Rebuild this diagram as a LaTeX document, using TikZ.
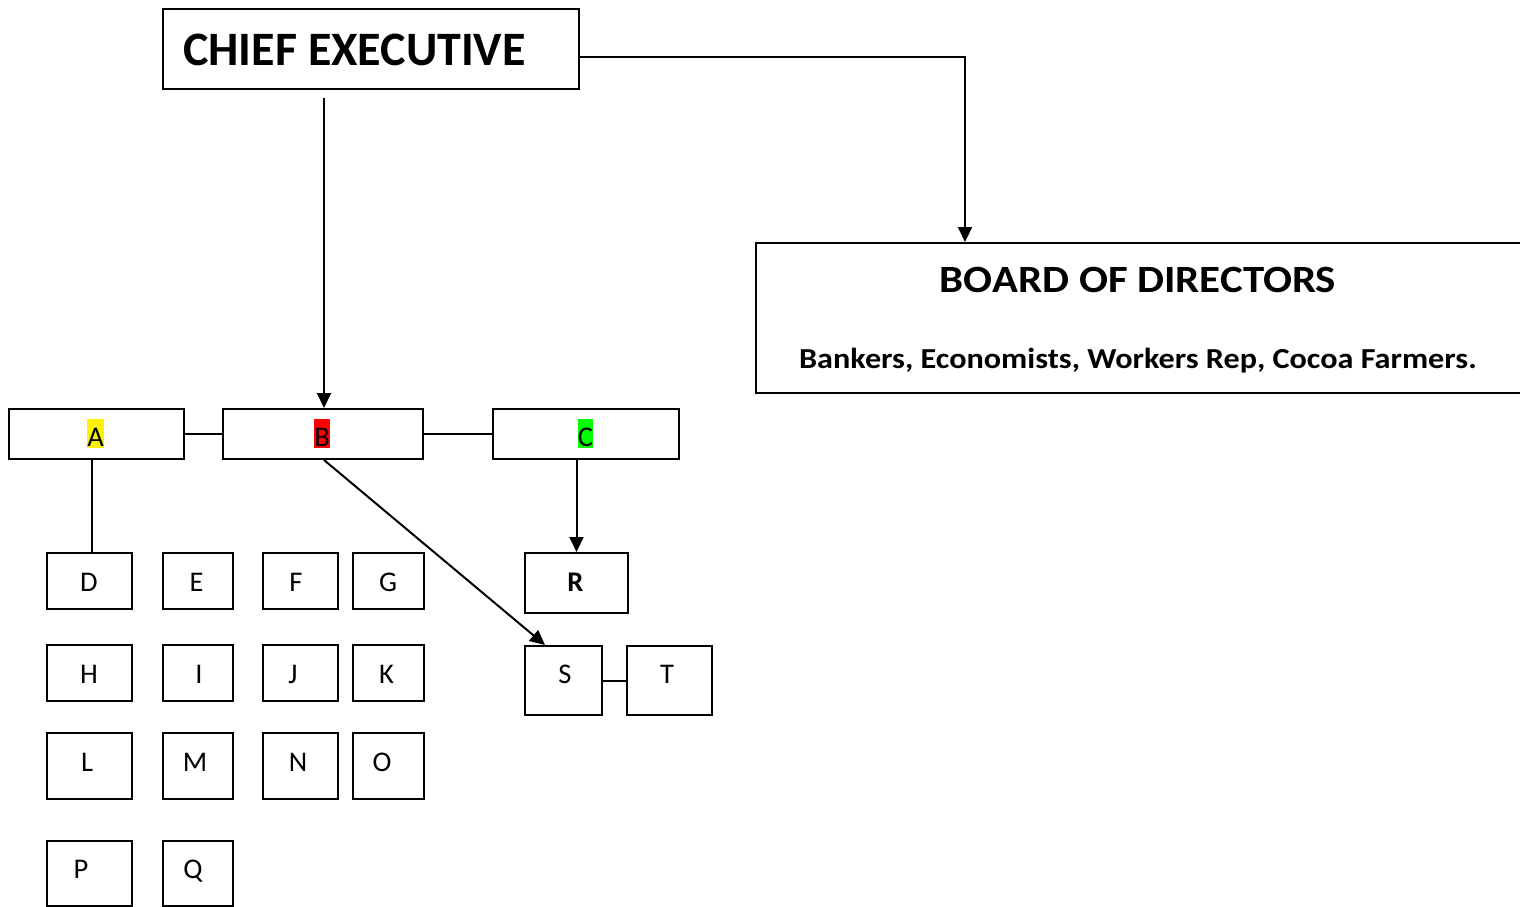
\documentclass[tikz,border=0pt]{standalone}
\usepackage{fontspec}
\setmainfont{Carlito}
\usetikzlibrary{arrows.meta,calc}
\begin{document}
\begin{tikzpicture}[x=1pt,y=-1pt,
  box/.style={draw,line width=2pt,inner sep=0pt,anchor=north west},
  conn/.style={line width=2pt},
  arr/.style={conn,-{Triangle[length=15pt,width=14pt]}},
  lbl/.style={anchor=base,inner sep=0pt,font=\fontsize{28.5}{30}\selectfont},
  hl/.style={lbl,inner xsep=0.3pt,inner ysep=0pt,text height=27.5pt,text depth=1.2pt,anchor=base}
]
\useasboundingbox (0,0) rectangle (1520,906);
\newcommand\bx[5]{\node[box,minimum width=#4-#2,minimum height=#5-#3] (#1) at (#2,#3) {};}
% top boxes
\bx{ce}{162}{8}{578}{88}
\node[anchor=base west,inner sep=0pt,font=\fontsize{48}{50}\selectfont\bfseries] (cet) at (183,65) {CHIEF EXECUTIVE};
\bx{bd}{755}{242}{1535}{392}
\node[anchor=base,inner sep=0pt,font=\fontsize{38.6}{42}\selectfont\bfseries] (bdt) at (1138,292.5) {\scalebox{1.11}[1]{BOARD OF DIRECTORS}};
\node[anchor=base,inner sep=0pt,font=\fontsize{29}{32}\selectfont\bfseries] (bdb) at (1138,368.3) {\scalebox{1.11}[1]{Bankers, Economists, Workers Rep, Cocoa Farmers.}};
% A B C
\bx{A}{8}{408}{183}{458}
\bx{B}{222}{408}{422}{458}
\bx{C}{492}{408}{678}{458}
\node[hl,fill=yellow] (At) at (95.5,446.7) {A};
\node[hl,fill=red] (Bt) at (322,446.7) {B};
\node[hl,fill=green] (Ct) at (585.5,446.7) {C};
% grid
\bx{D}{46}{552}{131}{608}
\bx{E}{162}{552}{232}{608}
\bx{F}{262}{552}{337}{608}
\bx{G}{352}{552}{423}{608}
\bx{H}{46}{644}{131}{700}
\bx{I}{162}{644}{232}{700}
\bx{J}{262}{644}{337}{700}
\bx{K}{352}{644}{423}{700}
\bx{L}{46}{732}{131}{798}
\bx{M}{162}{732}{232}{798}
\bx{N}{262}{732}{337}{798}
\bx{O}{352}{732}{423}{798}
\bx{P}{46}{840}{131}{905}
\bx{Q}{162}{840}{232}{905}
\bx{R}{524}{552}{627}{612}
\bx{S}{524}{645}{601}{714}
\bx{T}{626}{645}{711}{714}
\node[lbl] at (89,591) {D};
\node[lbl] at (196.5,591) {E};
\node[lbl] at (296,591) {F};
\node[lbl] at (388,591) {G};
\node[lbl,font=\fontsize{28.5}{30}\selectfont\bfseries] at (575.5,591) {R};
\node[lbl] at (89,683) {H};
\node[lbl] at (199,683) {I};
\node[lbl] at (293,683) {J};
\node[lbl] at (386.5,683) {K};
\node[lbl] at (565,683) {S};
\node[lbl] at (667,683) {T};
\node[lbl] at (87,771) {L};
\node[lbl] at (195,771) {M};
\node[lbl] at (298,771) {N};
\node[lbl] at (382,771) {O};
\node[lbl] at (81,878) {P};
\node[lbl] at (193,878) {Q};
% connectors
\draw[arr] ([yshift=-8pt]ce.east) -| ($(bd.north west)+(210,0)$);
\coordinate (ceb) at (324,98);
\draw[arr] (ceb) -- (ceb |- B.north);
\draw[conn] (A.east) -- (B.west);
\draw[conn] (B.east) -- (C.west);
\draw[conn] ([xshift=2.5pt]D.north |- A.south) -- ([xshift=2.5pt]D.north);
\draw[arr] (ceb |- B.south) -- ($(S.north west)+(21,0)$);
\draw[arr] (R.north |- C.south) -- (R.north);
\draw[conn] (S.east) -- (T.west);
\end{tikzpicture}
\end{document}
